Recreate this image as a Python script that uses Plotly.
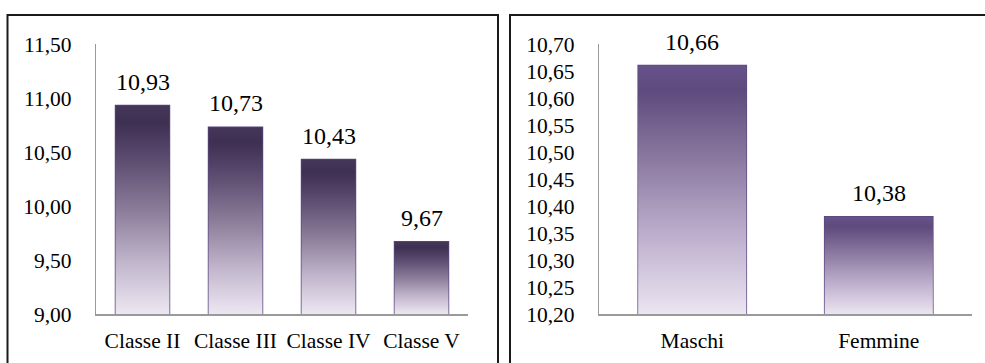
import plotly.graph_objects as go

# Punteggi medi per classe
classi = ["Classe II", "Classe III", "Classe IV", "Classe V"]
media_classi = [10.93, 10.73, 10.43, 9.67]

# Punteggi medi per genere
generi = ["Maschi", "Femmine"]
media_generi = [10.66, 10.38]

# Assi
y_sx_range = [9.0, 11.5]
y_sx_ticks = [9.0, 9.5, 10.0, 10.5, 11.0, 11.5]
y_dx_range = [10.20, 10.70]
y_dx_ticks = [10.20, 10.25, 10.30, 10.35, 10.40, 10.45, 10.50, 10.55, 10.60, 10.65, 10.70]

W, H = 985, 363
FONT = "Liberation Serif"
BAR_W = 0.58
OUTLINE = "#5b4680"

scala_sx = [[0.0, "#ede7f2"], [0.25, "#c0b5cb"], [0.5, "#8b7c99"],
            [0.78, "#54456a"], [0.92, "#3e3051"], [1.0, "#45375a"]]
scala_dx = [[0.0, "#ebe5f1"], [0.3, "#c0b2cf"], [0.6, "#8f7da4"],
            [0.9, "#5e4a7c"], [1.0, "#66538a"]]


def px_x(p):
    return p / W


def px_y(p):
    return (H - p) / H


fig = go.Figure()


def add_bars(cats, vals, base, scale, xa, ya):
    for i, v in enumerate(vals):
        x0, x1 = i - BAR_W / 2, i + BAR_W / 2
        fig.add_trace(go.Scatter(
            x=[x0, x0, x1, x1, x0], y=[base, v, v, base, base],
            mode="lines", fill="toself",
            fillgradient=dict(type="vertical", colorscale=scale),
            line=dict(width=0), hoverinfo="skip", showlegend=False,
            xaxis=xa, yaxis=ya,
        ))
    fig.add_trace(go.Bar(
        x=list(range(len(vals))), y=vals, width=BAR_W,
        marker=dict(color="rgba(0,0,0,0)", line=dict(color=OUTLINE, width=1.5)),
        showlegend=False, xaxis=xa, yaxis=ya,
    ))
    for i, v in enumerate(vals):
        fig.add_annotation(
            x=i, y=v, xref=xa, yref=ya, text=f"{v:.2f}".replace(".", ","),
            showarrow=False, yanchor="bottom", yshift=9,
            font=dict(family=FONT, size=24, color="#000"),
        )


add_bars(classi, media_classi, y_sx_range[0], scala_sx, "x", "y")
add_bars(generi, media_generi, y_dx_range[0], scala_dx, "x2", "y2")

axis_font = dict(family=FONT, size=21.5, color="#000")
y_dom = [px_y(314), px_y(44)]
common = dict(showgrid=False, zeroline=False, showline=True, ticks="",
              linecolor="#9a9a9a", automargin=False, tickfont=axis_font)

fig.update_layout(
    template="none",
    width=W, height=H, autosize=False,
    margin=dict(l=0, r=0, t=0, b=0, pad=0, autoexpand=False),
    paper_bgcolor="white", plot_bgcolor="white",
    separators=",.",
    xaxis=dict(domain=[px_x(96), px_x(468)], range=[-0.5, len(classi) - 0.5],
               tickvals=list(range(len(classi))), ticktext=classi,
               linewidth=2, ticklabelstandoff=6, anchor="y", **common),
    yaxis=dict(domain=y_dom, range=y_sx_range, tickvals=y_sx_ticks,
               tickformat=".2f", linewidth=1.2, ticklabelstandoff=19,
               anchor="x", **common),
    xaxis2=dict(domain=[px_x(599), px_x(972)], range=[-0.5, len(generi) - 0.5],
                tickvals=list(range(len(generi))), ticktext=generi,
                linewidth=2, ticklabelstandoff=6, anchor="y2", **common),
    yaxis2=dict(domain=y_dom, range=y_dx_range, tickvals=y_dx_ticks,
                tickformat=".2f", linewidth=1.2, ticklabelstandoff=19,
                anchor="x2", **common),
)

# Cornici dei due pannelli
for x0, x1 in [(7.5, 498), (510, 1000)]:
    fig.add_shape(type="rect", xref="paper", yref="paper",
                  x0=px_x(x0), x1=px_x(x1), y0=px_y(380), y1=px_y(15),
                  line=dict(color="#1a1a1a", width=2), fillcolor="rgba(0,0,0,0)",
                  layer="above")

fig.write_html("out.html")
